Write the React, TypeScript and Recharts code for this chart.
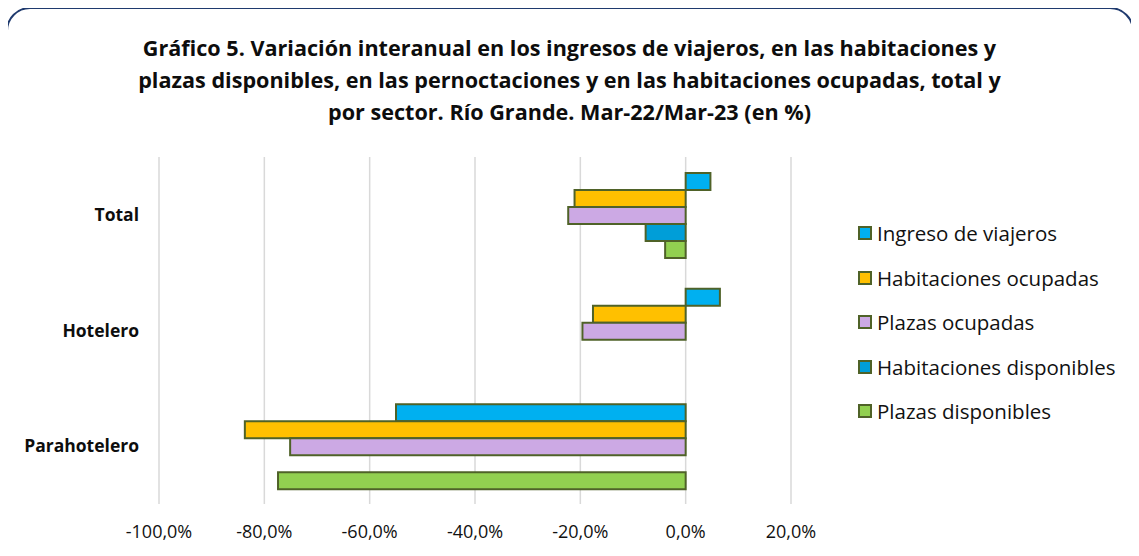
import { BarChart, Bar, XAxis, YAxis, CartesianGrid, Legend } from 'recharts';

const sectors = ['Total', 'Hotelero', 'Parahotelero'];
const ingresoViajeros = [4.7, 6.5, -55.0];
const habitacionesOcupadas = [-21.1, -17.6, -83.7];
const plazasOcupadas = [-22.3, -19.6, -75.1];
const habitacionesDisponibles = [-7.6, null, null];
const plazasDisponibles = [-3.9, null, -77.4];
const xTicks = [-100, -80, -60, -40, -20, 0, 20];

const series = [
  { key: 'ingreso', name: 'Ingreso de viajeros', color: '#00B0F0', values: ingresoViajeros },
  { key: 'habOcu', name: 'Habitaciones ocupadas', color: '#FFC000', values: habitacionesOcupadas },
  { key: 'plzOcu', name: 'Plazas ocupadas', color: '#CCA9E4', values: plazasOcupadas },
  { key: 'habDis', name: 'Habitaciones disponibles', color: '#009ED8', values: habitacionesDisponibles },
  { key: 'plzDis', name: 'Plazas disponibles', color: '#92D050', values: plazasDisponibles },
];

const data = sectors.map((sector, i) => {
  const row: Record<string, string | number | null> = { sector };
  series.forEach((s) => {
    row[s.key] = s.values[i];
  });
  return row;
});

const FONT = '"Open Sans", Lato, sans-serif';
const OUTLINE = '#4F6228';

const fmt = (v: number) => `${v.toFixed(1).replace('.', ',')}%`;

function LegendBox() {
  return (
    <div style={{ fontFamily: FONT }}>
      {series.map((s) => (
        <div key={s.key} style={{ display: 'flex', alignItems: 'center', height: 44.5 }}>
          <span
            style={{
              display: 'inline-block',
              width: 10,
              height: 10,
              background: s.color,
              border: `2px solid ${OUTLINE}`,
              marginRight: 5,
            }}
          />
          <span style={{ fontSize: 20.5, color: '#111' }}>{s.name}</span>
        </div>
      ))}
    </div>
  );
}

export default function App() {
  return (
    <div style={{ position: 'relative', width: 1139, height: 556, margin: -8, overflow: 'hidden', background: '#fff' }}>
      <div
        style={{
          position: 'absolute',
          left: 6,
          top: 7,
          width: 1124,
          height: 580,
          border: '2px solid #1F3A6E',
          borderRadius: 24,
        }}
      />
      <div
        style={{
          position: 'absolute',
          left: 0,
          top: 32,
          width: 1139,
          textAlign: 'center',
          fontFamily: FONT,
          fontWeight: 'bold',
          fontSize: 21.6,
          lineHeight: '32px',
          color: '#0D0D0D',
        }}
      >
        Gráfico 5. Variación interanual en los ingresos de viajeros, en las habitaciones y
        <br />
        plazas disponibles, en las pernoctaciones y en las habitaciones ocupadas, total y
        <br />
        por sector. Río Grande. Mar-22/Mar-23 (en %)
      </div>
      <div style={{ position: 'absolute', left: 0, top: 0 }}>
        <BarChart
          width={1139}
          height={556}
          data={data}
          layout="vertical"
          margin={{ top: 157, right: 348, bottom: 22, left: 9 }}
          barCategoryGap={16}
          barGap={0}
        >
          <CartesianGrid horizontal={false} stroke="#D9D9D9" strokeWidth={1.5} />
          <XAxis
            type="number"
            domain={[-100, 20]}
            ticks={xTicks}
            tickFormatter={fmt}
            axisLine={false}
            tickLine={false}
            tickMargin={15}
            height={30}
            tick={{ fontFamily: FONT, fontSize: 18, fill: '#111' }}
            allowDataOverflow
          />
          <YAxis
            type="category"
            dataKey="sector"
            width={150}
            axisLine={false}
            tickLine={false}
            tickMargin={14}
            tick={{ fontFamily: FONT, fontSize: 17.5, fontWeight: 'bold', fill: '#0D0D0D' }}
          />
          <Legend
            layout="vertical"
            align="center"
            verticalAlign="middle"
            content={() => <LegendBox />}
            wrapperStyle={{ left: 858, top: 211, width: 280 }}
          />
          {series.map((s) => (
            <Bar
              key={s.key}
              dataKey={s.key}
              name={s.name}
              fill={s.color}
              stroke={OUTLINE}
              strokeWidth={2}
              isAnimationActive={false}
            />
          ))}
        </BarChart>
      </div>
    </div>
  );
}
